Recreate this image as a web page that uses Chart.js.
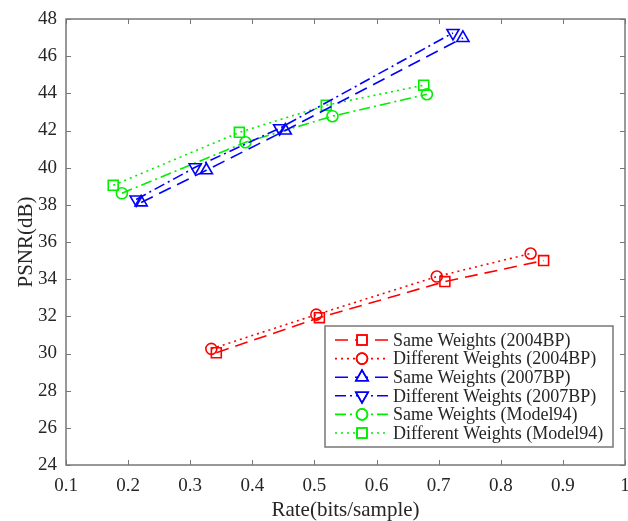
<!DOCTYPE html>
<html>
<head>
<meta charset="utf-8">
<script src="https://cdn.jsdelivr.net/npm/chart.js@4.4.1/dist/chart.umd.min.js"></script>
<style>
  html, body { margin: 0; padding: 0; background: #fff; }
  #wrap { width: 628px; height: 521px; position: relative; }
</style>
</head>
<body>
<div id="wrap"><canvas id="psnrChart"></canvas></div>
<script>
// tick labels
const xTicks = [0.1, 0.2, 0.3, 0.4, 0.5, 0.6, 0.7, 0.8, 0.9, 1];
const yTicks = [24, 26, 28, 30, 32, 34, 36, 38, 40, 42, 44, 46, 48];

// series values
const same2004Rate = [0.342, 0.508, 0.71, 0.869];
const same2004Psnr = [30.04, 31.93, 33.87, 35.0];
const diff2004Rate = [0.334, 0.503, 0.697, 0.848];
const diff2004Psnr = [30.25, 32.09, 34.14, 35.38];
const same2007Rate = [0.221, 0.326, 0.453, 0.739];
const same2007Psnr = [38.13, 39.86, 42.0, 46.98];
const diff2007Rate = [0.213, 0.308, 0.444, 0.723];
const diff2007Psnr = [38.29, 40.02, 42.12, 47.25];
const sameM94Rate = [0.19, 0.389, 0.529, 0.681];
const sameM94Psnr = [38.62, 41.37, 42.77, 43.95];
const diffM94Rate = [0.176, 0.379, 0.519, 0.676];
const diffM94Psnr = [39.05, 41.9, 43.36, 44.44];

const labels = [
    "Same Weights (2004BP)",
    "Different Weights (2004BP)",
    "Same Weights (2007BP)",
    "Different Weights (2007BP)",
    "Same Weights (Model94)",
    "Different Weights (Model94)"
];

const RED = "#ff0000", BLUE = "#0000ff", GREEN = "#00ee00";
const DASH = [13, 7], DOT = [2, 4], DASHDOT = [11, 4, 2, 4];
const textColor = "#262626";
const frameColor = "#777777";
const serif = "'Liberation Serif', 'Times New Roman', serif";

function pts(xs, ys) {
    return xs.map((x, i) => ({ x: x, y: ys[i] }));
}

function makeSet(label, xs, ys, color, dash, style, radius, rotation) {
    return {
        label: label,
        data: pts(xs, ys),
        showLine: true,
        borderColor: color,
        borderWidth: 1.6,
        borderDash: dash,
        tension: 0,
        fill: false,
        pointStyle: style,
        pointRadius: radius,
        pointRotation: rotation || 0,
        pointBorderColor: color,
        pointBorderWidth: 1.6,
        pointBackgroundColor: "rgba(0,0,0,0)"
    };
}

const datasets = [
    makeSet(labels[0], same2004Rate, same2004Psnr, RED, DASH, "rect", 7),
    makeSet(labels[1], diff2004Rate, diff2004Psnr, RED, DOT, "circle", 5.5),
    makeSet(labels[2], same2007Rate, same2007Psnr, BLUE, DASH, "triangle", 7),
    makeSet(labels[3], diff2007Rate, diff2007Psnr, BLUE, DASHDOT, "triangle", 7, 180),
    makeSet(labels[4], sameM94Rate, sameM94Psnr, GREEN, DASHDOT, "circle", 5.5),
    makeSet(labels[5], diffM94Rate, diffM94Psnr, GREEN, DOT, "rect", 7)
];

// box with inward ticks on all four sides (matlab style)
const framePlugin = {
    id: "frame",
    afterDraw(chart) {
        const { ctx, chartArea: a, scales } = chart;
        ctx.save();
        ctx.strokeStyle = frameColor;
        ctx.lineWidth = 1.5;
        ctx.setLineDash([]);
        ctx.strokeRect(a.left, a.top, a.right - a.left, a.bottom - a.top);
        ctx.lineWidth = 1;
        const len = 5;
        xTicks.forEach(v => {
            const px = Math.round(scales.x.getPixelForValue(v)) + 0.5;
            ctx.beginPath();
            ctx.moveTo(px, a.bottom); ctx.lineTo(px, a.bottom - len);
            ctx.moveTo(px, a.top); ctx.lineTo(px, a.top + len);
            ctx.stroke();
        });
        yTicks.forEach(v => {
            const py = Math.round(scales.y.getPixelForValue(v)) + 0.5;
            ctx.beginPath();
            ctx.moveTo(a.left, py); ctx.lineTo(a.left + len, py);
            ctx.moveTo(a.right, py); ctx.lineTo(a.right - len, py);
            ctx.stroke();
        });
        ctx.restore();
    }
};

// legend box inside the plot, lower right
const legendPlugin = {
    id: "insideLegend",
    afterDraw(chart) {
        const { ctx } = chart;
        const box = { left: 325, top: 326, width: 288, height: 121 };
        const rowH = 18.6, firstRow = 340;
        ctx.save();
        ctx.fillStyle = "#ffffff";
        ctx.fillRect(box.left, box.top, box.width, box.height);
        ctx.strokeStyle = frameColor;
        ctx.lineWidth = 1.5;
        ctx.setLineDash([]);
        ctx.strokeRect(box.left, box.top, box.width, box.height);
        chart.data.datasets.forEach((ds, i) => {
            const y = firstRow + i * rowH;
            ctx.strokeStyle = ds.borderColor;
            ctx.lineWidth = ds.borderWidth;
            ctx.setLineDash(ds.borderDash);
            ctx.beginPath();
            ctx.moveTo(335, y);
            ctx.lineTo(389, y);
            ctx.stroke();
            ctx.setLineDash([]);
            ctx.fillStyle = "#ffffff";
            Chart.helpers.drawPoint(ctx, {
                pointStyle: ds.pointStyle,
                radius: ds.pointRadius,
                rotation: ds.pointRotation,
                borderWidth: ds.pointBorderWidth
            }, 362, y);
            ctx.stroke();
            ctx.fillStyle = textColor;
            ctx.font = "18px " + serif;
            ctx.textBaseline = "middle";
            ctx.textAlign = "left";
            ctx.fillText(ds.label, 393, y + 1);
        });
        ctx.restore();
    }
};

new Chart(document.getElementById("psnrChart"), {
    type: "scatter",
    data: { datasets: datasets },
    options: {
        responsive: true,
        maintainAspectRatio: false,
        animation: false,
        layout: { autoPadding: false, padding: { top: 19, right: 3, left: 0, bottom: 0 } },
        plugins: {
            legend: { display: false },
            tooltip: { enabled: false }
        },
        scales: {
            x: {
                type: "linear",
                min: 0.1,
                max: 1,
                afterFit: s => { s.height = 56; s.paddingLeft = 0; s.paddingRight = 0; },
                afterBuildTicks: s => { s.ticks = xTicks.map(v => ({ value: v })); },
                grid: { display: false, drawTicks: false },
                border: { display: false },
                ticks: {
                    color: textColor,
                    font: { family: serif, size: 19 },
                    padding: 10,
                    maxRotation: 0,
                    callback: v => String(v)
                },
                title: {
                    display: true,
                    text: "Rate(bits/sample)",
                    color: textColor,
                    font: { family: serif, size: 21, lineHeight: 1 },
                    padding: { top: 0, bottom: 0 }
                }
            },
            y: {
                type: "linear",
                min: 24,
                max: 48,
                afterFit: s => { s.width = 66; s.paddingTop = 0; s.paddingBottom = 0; },
                afterBuildTicks: s => { s.ticks = yTicks.map(v => ({ value: v })); },
                grid: { display: false, drawTicks: false },
                border: { display: false },
                ticks: {
                    color: textColor,
                    font: { family: serif, size: 19 },
                    padding: 9,
                    callback: v => String(v)
                },
                title: {
                    display: true,
                    text: "PSNR(dB)",
                    color: textColor,
                    font: { family: serif, size: 21 },
                    padding: { top: 14, bottom: 0 }
                }
            }
        }
    },
    plugins: [framePlugin, legendPlugin]
});
</script>
</body>
</html>
